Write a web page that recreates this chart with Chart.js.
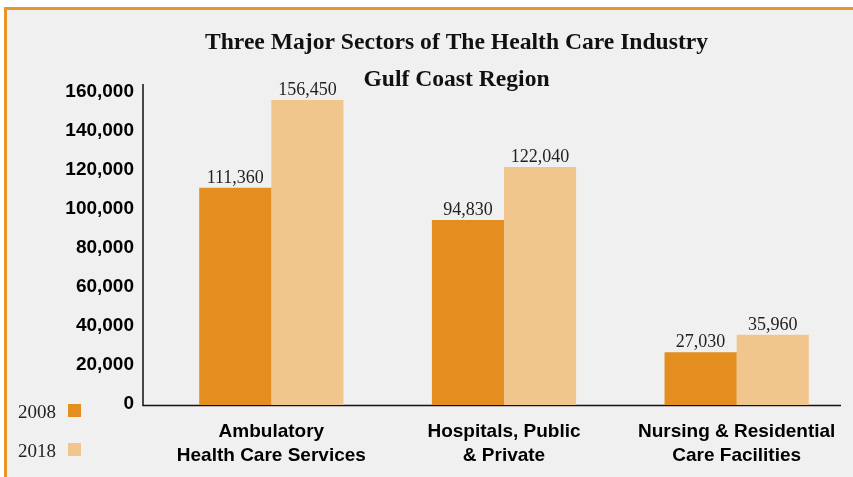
<!DOCTYPE html>
<html>
<head>
<meta charset="utf-8">
<script src="https://cdn.jsdelivr.net/npm/chart.js"></script>
<style>
	body { margin: 0; background: #fff; }
	#wrap { position: relative; width: 853px; height: 477px; overflow: hidden; }
	#panel { position: absolute; left: 4px; top: 7px; right: 0; bottom: 0;
		background: #f0f0f0; border-top: 3px solid #e8952a; border-left: 3px solid #e8952a; }
	#chartCanvas { position: absolute; left: 0; top: 0; }
</style>
</head>
<body>
<div id="wrap">
	<div id="panel"></div>
	<canvas id="chartCanvas" width="853" height="477"></canvas>
</div>
<script>
	// 차트 데이터
	var categories = [
		["Ambulatory", "Health Care Services"],
		["Hospitals, Public", "& Private"],
		["Nursing & Residential", "Care Facilities"]
	];
	var seriesNames = ["2008", "2018"];
	var values2008 = [111360, 94830, 27030];
	var values2018 = [156450, 122040, 35960];
	var yTicks = [0, 20000, 40000, 60000, 80000, 100000, 120000, 140000, 160000];
	var titleLines = ["Three Major Sectors of The Health Care Industry", "Gulf Coast Region"];

	var COLOR_2008 = "#e38e1e";
	var COLOR_2018 = "#f1c68c";
	var AXIS_SHIFT = 12; // 축선은 플롯 영역보다 왼쪽으로 조금 나가 있음

	// 축선 (y축, x축)
	var axisLinePlugin = {
		id: "axisLines",
		beforeDatasetsDraw: function(chart) {
			var ctx = chart.ctx;
			var area = chart.chartArea;
			ctx.save();
			ctx.strokeStyle = "#111";
			ctx.lineWidth = 1.5;
			ctx.beginPath();
			ctx.moveTo(area.left - AXIS_SHIFT, area.top);
			ctx.lineTo(area.left - AXIS_SHIFT, area.bottom + 0.5);
			ctx.lineTo(area.right - AXIS_SHIFT, area.bottom + 0.5);
			ctx.stroke();
			ctx.restore();
		} // beforeDatasetsDraw
	}; // axisLinePlugin

	// 막대 위 값 표시
	var valueLabelPlugin = {
		id: "valueLabels",
		afterDatasetsDraw: function(chart) {
			var ctx = chart.ctx;
			ctx.save();
			ctx.font = "18px 'Liberation Serif', serif";
			ctx.fillStyle = "#222";
			ctx.textAlign = "center";
			ctx.textBaseline = "alphabetic";
			chart.data.datasets.forEach(function(ds, i) {
				var meta = chart.getDatasetMeta(i);
				meta.data.forEach(function(bar, j) {
					ctx.fillText(ds.data[j].toLocaleString("en-US"), bar.x, bar.y - 5);
				}); // end forEach
			}); // end forEach
			ctx.restore();
		} // afterDatasetsDraw
	}; // valueLabelPlugin

	// 제목
	var titlePlugin = {
		id: "titleLines",
		afterDraw: function(chart) {
			var ctx = chart.ctx;
			var cx = chart.width / 2 + 30;
			ctx.save();
			ctx.font = "bold 23.6px 'Liberation Serif', serif";
			ctx.fillStyle = "#111";
			ctx.textAlign = "center";
			ctx.textBaseline = "alphabetic";
			ctx.fillText(titleLines[0], cx, 49);
			ctx.fillText(titleLines[1], cx, 86);
			ctx.restore();
		} // afterDraw
	}; // titlePlugin

	// 범례 (왼쪽 아래, 글자 뒤에 네모)
	var legendPlugin = {
		id: "sideLegend",
		afterDraw: function(chart) {
			var ctx = chart.ctx;
			var top = chart.chartArea.bottom - 1;
			ctx.save();
			ctx.font = "19px 'Liberation Serif', serif";
			ctx.textAlign = "left";
			ctx.textBaseline = "alphabetic";
			chart.data.datasets.forEach(function(ds, i) {
				var y = top + i * 39;
				ctx.fillStyle = "#222";
				ctx.fillText(ds.label, 18, y + 14);
				ctx.fillStyle = ds.backgroundColor;
				ctx.fillRect(68, y, 13, 13);
			}); // end forEach
			ctx.restore();
		} // afterDraw
	}; // legendPlugin

	var chart = new Chart(document.getElementById("chartCanvas"), {
		type: "bar",
		data: {
			labels: categories,
			datasets: [{
				label: seriesNames[0],
				data: values2008,
				backgroundColor: COLOR_2008
			}, {
				label: seriesNames[1],
				data: values2018,
				backgroundColor: COLOR_2018
			}]
		},
		options: {
			responsive: false,
			animation: false,
			layout: {
				padding: { top: 84, right: 0, bottom: 0, left: 0 }
			},
			categoryPercentage: 0.62,
			barPercentage: 1,
			plugins: {
				legend: { display: false },
				title: { display: false },
				tooltip: { enabled: false }
			},
			scales: {
				x: {
					grid: { display: false, drawTicks: false },
					border: { display: false },
					afterFit: function(scale) {
						scale.height = 72;
					},
					ticks: {
						color: "#000",
						padding: 15,
						maxRotation: 0,
						autoSkip: false,
						font: { family: "'Liberation Sans', Arial, sans-serif", size: 19, weight: "bold", lineHeight: 1.26 }
					}
				},
				y: {
					min: 0,
					max: 164600,
					grid: { display: false, drawTicks: false },
					border: { display: false },
					afterFit: function(scale) {
						scale.width = 155;
					},
					afterBuildTicks: function(scale) {
						scale.ticks = yTicks.map(function(v) { return { value: v }; });
					},
					ticks: {
						color: "#000",
						padding: 21,
						labelOffset: -1,
						font: { family: "'Liberation Sans', Arial, sans-serif", size: 19, weight: "bold" },
						callback: function(v) {
							return v.toLocaleString("en-US");
						}
					}
				}
			}
		},
		plugins: [axisLinePlugin, valueLabelPlugin, titlePlugin, legendPlugin]
	}); // end chart
</script>
</body>
</html>
